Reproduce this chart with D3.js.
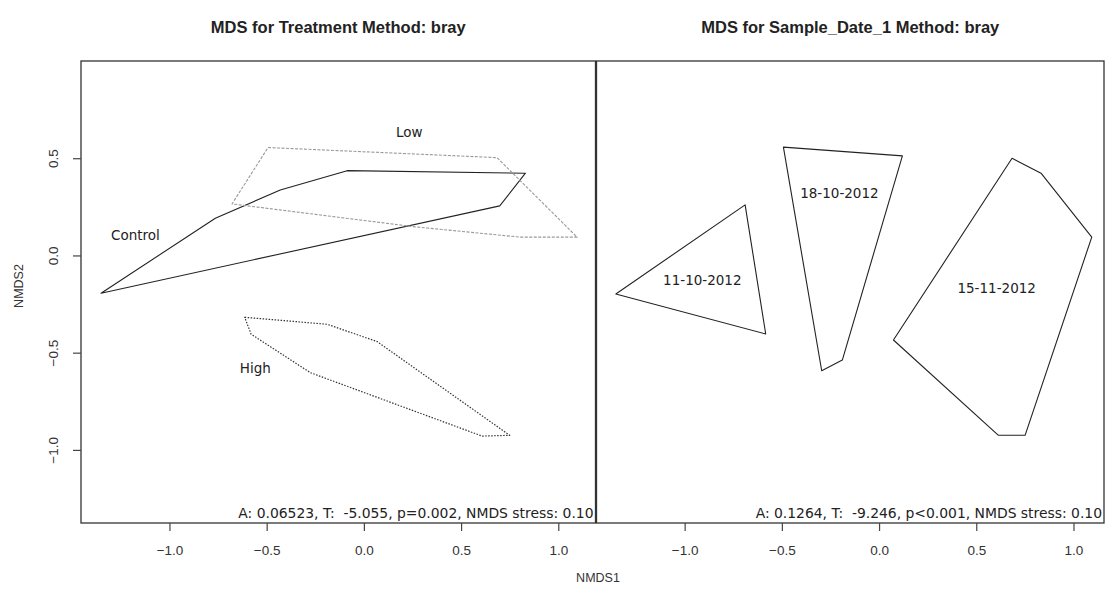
<!DOCTYPE html>
<html>
<head>
<meta charset="utf-8">
<script src="https://cdn.jsdelivr.net/npm/d3@7"></script>
<style>
  body { margin: 0; background: #fff; }
  svg { display: block; }
  text { white-space: pre; }
</style>
</head>
<body>
<svg id="chart" width="1116" height="597"></svg>
<script>
// ---- data: NMDS ordination hulls (NMDS1, NMDS2) ----
const xTicks = [-1.0, -0.5, 0.0, 0.5, 1.0];
const yTicks = [-1.0, -0.5, 0.0, 0.5];
const axisLimitsY = [-1.376, 1.0];
const axisLimitsXLeft = [-1.455, 1.194];
const axisLimitsXRight = [-1.456, 1.157];

const titles = ["MDS for Treatment Method: bray", "MDS for Sample_Date_1 Method: bray"];
const statsText = [
  "A: 0.06523, T:  -5.055, p=0.002, NMDS stress: 0.10",
  "A: 0.1264, T:  -9.246, p<0.001, NMDS stress: 0.10"
];

// Treatment hulls
const treatmentNames = ["Control", "Low", "High"];
const controlHull = [[-1.352, -0.194], [-0.764, 0.191], [-0.430, 0.337], [-0.086, 0.436], [0.831, 0.423], [0.699, 0.255]];
const lowHull = [[-0.493, 0.555], [0.685, 0.503], [1.097, 0.094], [0.805, 0.094], [0.255, 0.148], [-0.678, 0.265]];
const highHull = [[-0.613, -0.318], [-0.189, -0.354], [0.068, -0.443], [0.750, -0.925], [0.608, -0.929], [-0.275, -0.603], [-0.580, -0.405]];
const treatmentLabelPos = [[-1.175, 0.105], [0.234, 0.632], [-0.558, -0.580]];

// Sampling-date hulls
const dateNames = ["11-10-2012", "18-10-2012", "15-11-2012"];
const date1Hull = [[-1.354, -0.198], [-0.689, 0.260], [-0.583, -0.404]];
const date2Hull = [[-0.492, 0.557], [0.120, 0.512], [-0.189, -0.538], [-0.295, -0.593]];
const date3Hull = [[0.684, 0.500], [0.833, 0.423], [1.094, 0.094], [0.751, -0.925], [0.614, -0.925], [0.074, -0.435]];
const dateLabelPos = [[-0.909, -0.130], [-0.204, 0.320], [0.605, -0.169]];

// ---- layout ----
const plotTop = 61, plotBottom = 523;
const leftBox = [81, 595.5];
const rightBox = [596.5, 1104];
const tickFont = "'Liberation Sans', Arial, sans-serif";
const labelFont = "'DejaVu Sans', sans-serif";

const svg = d3.select("#chart");

const y = d3.scaleLinear().domain(axisLimitsY).range([plotBottom, plotTop]);
const xL = d3.scaleLinear().domain(axisLimitsXLeft).range([81, 596]);
const xR = d3.scaleLinear().domain(axisLimitsXRight).range([596, 1104]);

const fmt = d3.format(".1f");

function drawPanel(x, box, title, stats, hulls, names, labelPos, showY) {
  const g = svg.append("g");
  const line = d3.line().x(d => x(d[0])).y(d => y(d[1])).curve(d3.curveLinearClosed);

  hulls.forEach(h => {
    g.append("path")
      .attr("d", line(h.pts))
      .attr("fill", "none")
      .attr("stroke", h.color)
      .attr("stroke-width", h.width)
      .attr("stroke-dasharray", h.dash || null)
      .attr("stroke-linejoin", "round");
  });

  g.selectAll("text.grp").data(names).enter().append("text")
    .attr("class", "grp")
    .attr("x", (d, i) => x(labelPos[i][0]))
    .attr("y", (d, i) => y(labelPos[i][1]))
    .attr("dy", "0.35em")
    .attr("text-anchor", "middle")
    .attr("font-family", labelFont)
    .attr("font-size", 13.5)
    .attr("fill", "#222")
    .text(d => d);

  // plot frame
  g.append("rect")
    .attr("x", box[0]).attr("y", plotTop)
    .attr("width", box[1] - box[0]).attr("height", plotBottom - plotTop)
    .attr("fill", "none").attr("stroke", "#333").attr("stroke-width", 1.3);

  // x axis
  const ax = g.append("g")
    .attr("transform", `translate(0,${plotBottom})`)
    .call(d3.axisBottom(x).tickValues(xTicks).tickSize(8).tickSizeOuter(0).tickPadding(14).tickFormat(fmt));
  ax.select(".domain").remove();
  ax.selectAll("line").attr("stroke", "#444").attr("stroke-width", 1.2);
  ax.selectAll("text").attr("font-family", tickFont).attr("font-size", 13.5).attr("fill", "#333");

  if (showY) {
    const ay = g.append("g")
      .attr("transform", `translate(${box[0]},0)`)
      .call(d3.axisLeft(y).tickValues(yTicks).tickSize(8).tickSizeOuter(0).tickFormat(fmt));
    ay.select(".domain").remove();
    ay.selectAll("line").attr("stroke", "#444").attr("stroke-width", 1.2);
    ay.selectAll("text")
      .attr("font-family", tickFont).attr("font-size", 13.5).attr("fill", "#333")
      .attr("text-anchor", "middle")
      .attr("x", null)
      .attr("transform", "translate(-28,0) rotate(-90)")
      .attr("y", 0)
      .attr("dy", "0.35em");
  }

  // title
  svg.append("text")
    .attr("x", (box[0] + box[1]) / 2).attr("y", 33)
    .attr("text-anchor", "middle")
    .attr("font-family", tickFont).attr("font-weight", "bold").attr("font-size", 16.5)
    .attr("fill", "#222")
    .text(title);

  // statistics line
  g.append("text")
    .attr("x", box[1] - 2).attr("y", plotBottom - 5)
    .attr("text-anchor", "end")
    .attr("font-family", labelFont).attr("font-size", 13.9)
    .attr("fill", "#222")
    .text(stats);
}

drawPanel(xL, leftBox, titles[0], statsText[0], [
  { pts: controlHull, color: "#222", width: 1.1 },
  { pts: lowHull, color: "#999", width: 1.1, dash: "3,1.5" },
  { pts: highHull, color: "#333", width: 1.2, dash: "1.5,1.5" }
], treatmentNames, treatmentLabelPos, true);

drawPanel(xR, rightBox, titles[1], statsText[1], [
  { pts: date1Hull, color: "#222", width: 1.1 },
  { pts: date2Hull, color: "#222", width: 1.1 },
  { pts: date3Hull, color: "#222", width: 1.1 }
], dateNames, dateLabelPos, false);

// axis titles
svg.append("text")
  .attr("x", 598).attr("y", 582)
  .attr("text-anchor", "middle")
  .attr("font-family", tickFont).attr("font-size", 12.5).attr("fill", "#333")
  .text("NMDS1");

svg.append("text")
  .attr("transform", `translate(19,${(plotTop + plotBottom) / 2 - 6}) rotate(-90)`)
  .attr("text-anchor", "middle")
  .attr("dy", "0.35em")
  .attr("font-family", tickFont).attr("font-size", 12.5).attr("fill", "#333")
  .text("NMDS2");
</script>
</body>
</html>
